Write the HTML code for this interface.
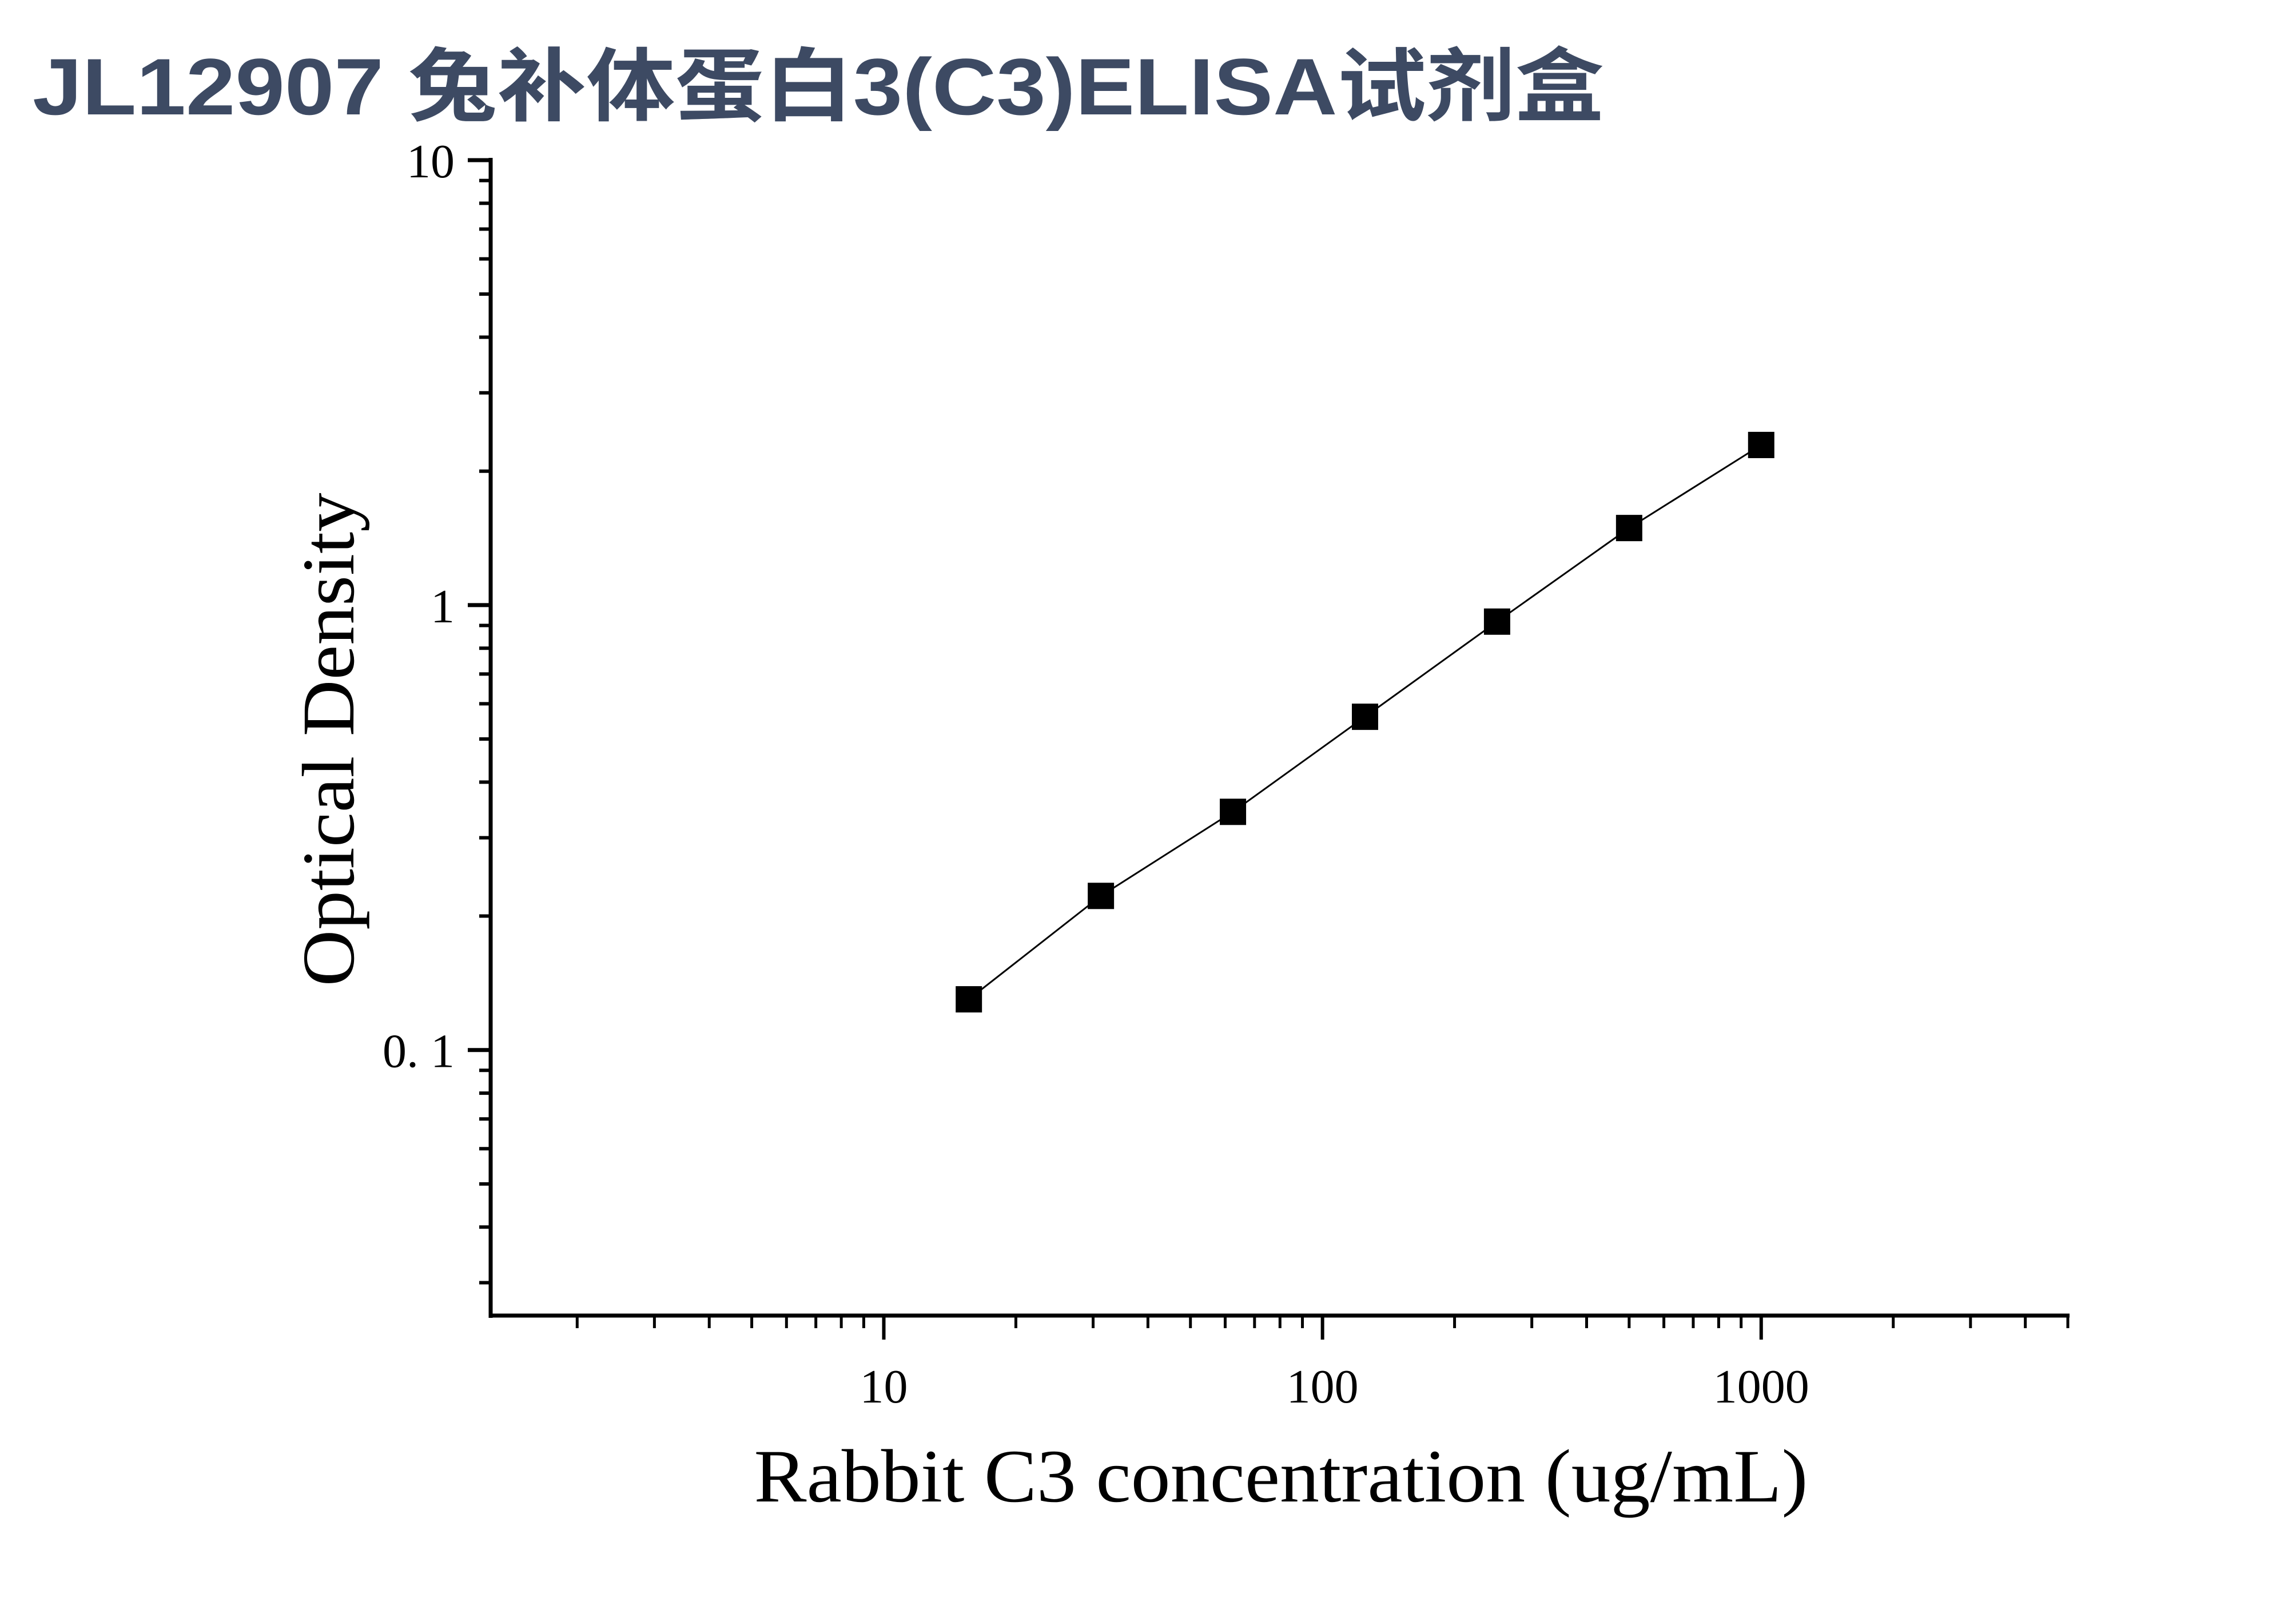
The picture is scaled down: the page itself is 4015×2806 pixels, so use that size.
<!DOCTYPE html>
<html><head><meta charset="utf-8"><style>
html,body{margin:0;padding:0;background:#fff;}
svg{display:block;}
</style></head><body>
<svg id="chart" width="4015" height="2806" viewBox="0 0 4015 2806" xmlns="http://www.w3.org/2000/svg">
<rect width="4015" height="2806" fill="#fff"/>
<text x="57" y="200" font-family="'Liberation Sans','Noto Sans CJK SC',sans-serif" font-weight="bold" font-size="140" fill="#3d4a63" textLength="2748" lengthAdjust="spacingAndGlyphs">JL12907 兔补体蛋白3(C3)ELISA试剂盒</text>
<g id="axes"></g>
<g id="marks"></g>
<text x="2240" y="2625" text-anchor="middle" font-family="'Liberation Serif',serif" font-size="132" fill="#000" textLength="1843" lengthAdjust="spacingAndGlyphs">Rabbit C3 concentration (ug/mL)</text>
<text transform="translate(618,1293) rotate(-90)" text-anchor="middle" font-family="'Liberation Serif',serif" font-size="130" fill="#000" textLength="863" lengthAdjust="spacingAndGlyphs">Optical Density</text>
</svg>
<script>
const concentrations = [15.625, 31.25, 62.5, 125, 250, 500, 1000];
const odValues = [0.130, 0.222, 0.343, 0.561, 0.918, 1.49, 2.29];
const xTickValues = [10, 100, 1000];
const xTickLabels = ["10", "100", "1000"];
const yTickValues = [0.1, 1, 10];
const yTickLabels = ["0. 1", "1", "10"];

const NS = "http://www.w3.org/2000/svg";
const X0 = 858, X1 = 3616, Y0 = 2300, Y1 = 280;
const xMin = 1.27, xMax = 5000, yMin = 0.0253, yMax = 10;
function xs(v){ return X0 + (Math.log10(v) - Math.log10(xMin)) / (Math.log10(xMax) - Math.log10(xMin)) * (X1 - X0); }
function ys(v){ return Y0 - (Math.log10(v) - Math.log10(yMin)) / (Math.log10(yMax) - Math.log10(yMin)) * (Y0 - Y1); }
function mk(tag, attrs, parent){ const e = document.createElementNS(NS, tag); for (const k in attrs) e.setAttribute(k, attrs[k]); parent.appendChild(e); return e; }

const axes = document.getElementById('axes');
const marks = document.getElementById('marks');

const yAxis = mk('line', {x1:X0, y1:Y1-4, x2:X0, y2:Y0+4, stroke:'#000', 'stroke-width':7}, axes);


const xAxis = mk('line', {x1:X0-3, y1:Y0, x2:X1+3, y2:Y0, stroke:'#000', 'stroke-width':7}, axes);



// x ticks
for (let d = 1; d <= 1000; d *= 10) {
  for (let m = 1; m <= 9; m++) {
    const v = d * m;
    if (v < xMin || v > xMax) continue;
    const major = m === 1;
    const px = xs(v);
    const t = mk('line', {x1:px, y1:Y0, x2:px, y2:Y0 + (major ? 42 : 22), stroke:'#000', 'stroke-width':major ? 6 : 5}, axes);
    
    
  }
}
// y ticks
for (let d = 0.01; d <= 10; d *= 10) {
  for (let m = 1; m <= 9; m++) {
    const v = d * m;
    if (v < yMin || v > yMax * 1.0001) continue;
    const major = m === 1;
    const py = ys(v);
    const t = mk('line', {x1:X0, y1:py, x2:X0 - (major ? 40 : 20), y2:py, stroke:'#000', 'stroke-width':major ? 7 : 6}, axes);
    
    
  }
}
xTickValues.forEach((v, i) => {
  const t = mk('text', {x:xs(v), y:2452, 'text-anchor':'middle', 'font-family':"'Liberation Serif',serif", 'font-size':84, fill:'#000'}, axes);
  t.textContent = xTickLabels[i];
  
  
});
yTickValues.forEach((v, i) => {
  const t = mk('text', {x:795, y:ys(v) + 30, 'text-anchor':'end', 'font-family':"'Liberation Serif',serif", 'font-size':84, fill:'#000'}, axes);
  t.textContent = yTickLabels[i];
  
  
});

const pts = concentrations.map((c, i) => xs(c).toFixed(1) + ',' + ys(odValues[i]).toFixed(1)).join(' ');
const line = mk('polyline', {points:pts, fill:'none', stroke:'#000', 'stroke-width':3}, marks);


concentrations.forEach((c, i) => {
  const s = 46;
  const r = mk('rect', {x:xs(c) - s/2, y:ys(odValues[i]) - s/2, width:s, height:s, fill:'#000'}, marks);
  
  
});
</script>
</body></html>
